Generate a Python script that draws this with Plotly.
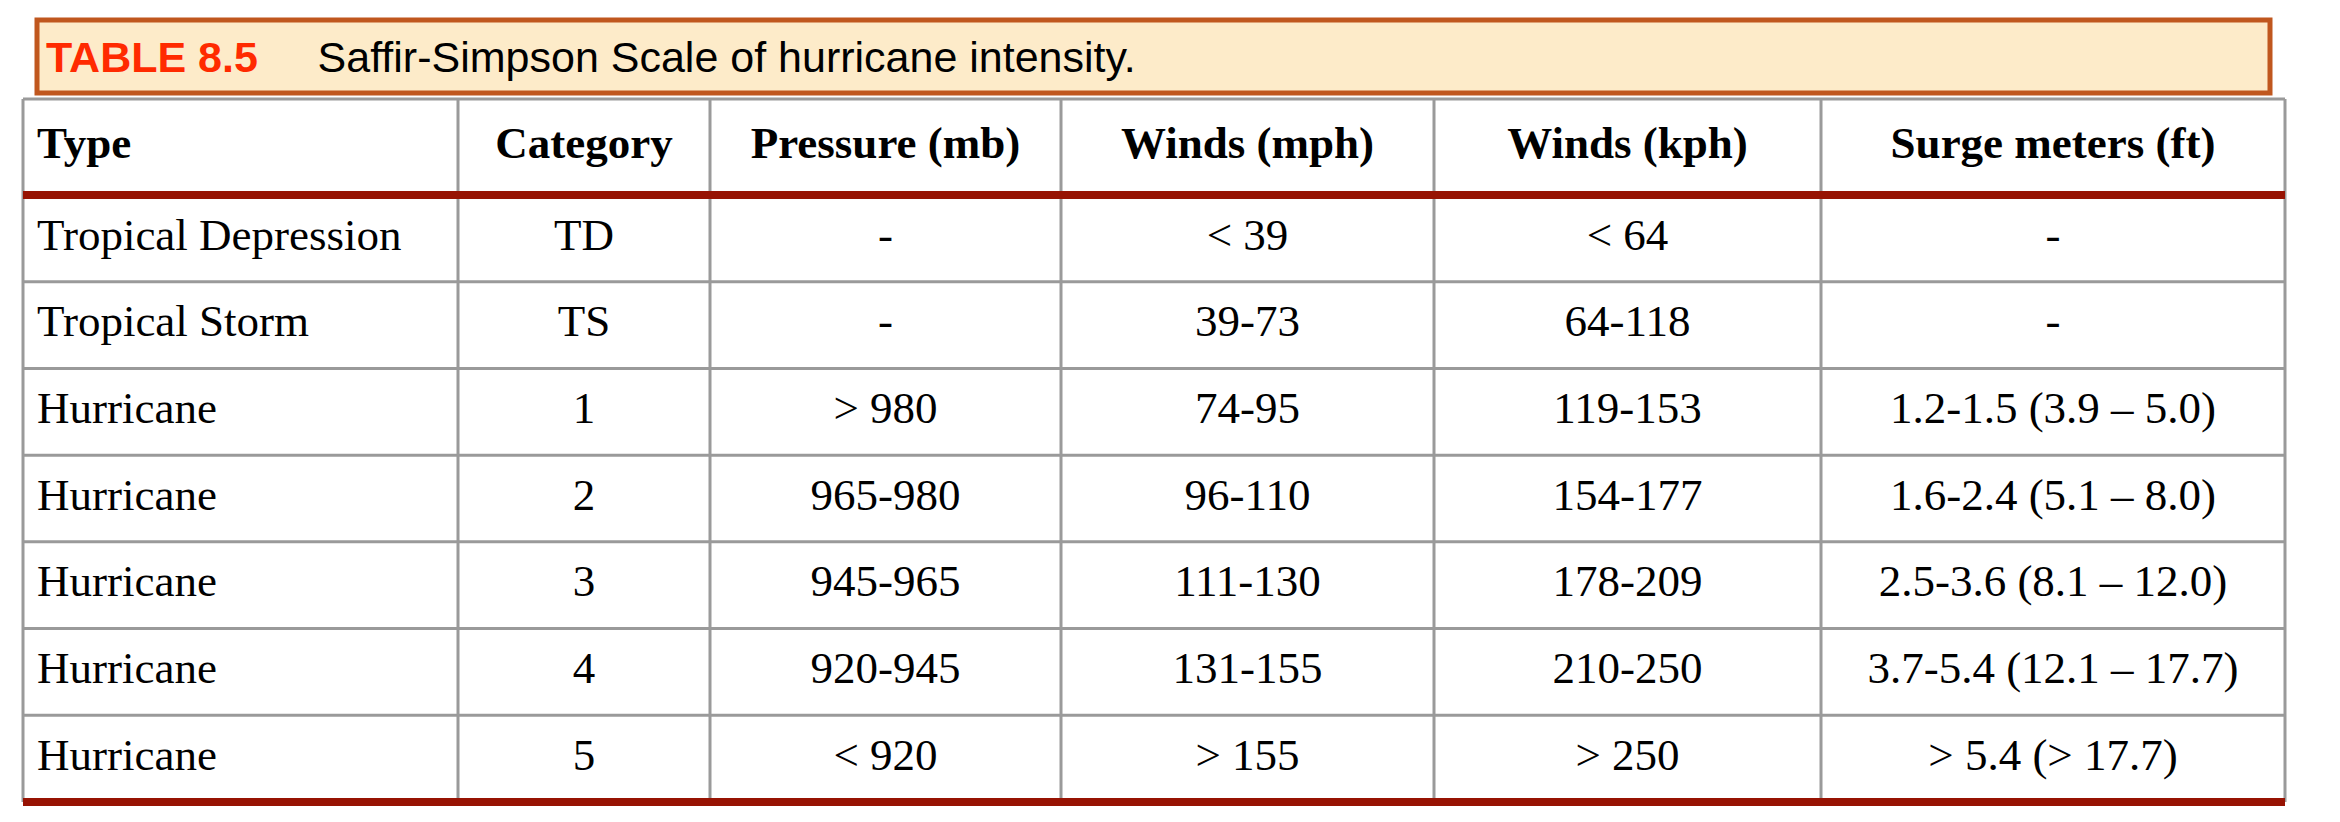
import plotly.graph_objects as go

# table content
columns = ["Type", "Category", "Pressure (mb)", "Winds (mph)", "Winds (kph)", "Surge meters (ft)"]
types = ["Tropical Depression", "Tropical Storm", "Hurricane", "Hurricane", "Hurricane", "Hurricane", "Hurricane"]
categories = ["TD", "TS", "1", "2", "3", "4", "5"]
pressure = ["-", "-", "> 980", "965-980", "945-965", "920-945", "< 920"]
winds_mph = ["< 39", "39-73", "74-95", "96-110", "111-130", "131-155", "> 155"]
winds_kph = ["< 64", "64-118", "119-153", "154-177", "178-209", "210-250", "> 250"]
surge = ["-", "-", "1.2-1.5 (3.9 – 5.0)", "1.6-2.4 (5.1 – 8.0)", "2.5-3.6 (8.1 – 12.0)",
         "3.7-5.4 (12.1 – 17.7)", "> 5.4 (> 17.7)"]

W, H = 2340, 822
col_edges = [15, 450, 702, 1053, 1426, 1813, 2277]
top, head_bot, bottom = 91, 187, 794
row_h = (bottom - head_bot) / len(types)

GRID = "#9a9a9a"
RED = "#971303"
FONT = "Liberation Serif"
fs = 45

fig = go.Figure()
body = [types, categories, pressure, winds_mph, winds_kph, surge]
for i, col in enumerate(body):
    ys = [head_bot + row_h * (r + 0.5) for r in range(len(col))]
    if i == 0:
        xs = [col_edges[0] + 14] * len(col)
        pos = "middle right"
    else:
        xs = [(col_edges[i] + col_edges[i + 1]) / 2] * len(col)
        pos = "middle center"
    fig.add_trace(go.Scatter(x=xs, y=ys, mode="text", text=col, textposition=pos,
                             textfont=dict(family=FONT, size=fs, color="black"),
                             hoverinfo="skip", showlegend=False))

hx = [col_edges[0] + 14] + [(col_edges[i] + col_edges[i + 1]) / 2 for i in range(1, len(columns))]
fig.add_trace(go.Scatter(x=hx, y=[(top + head_bot) / 2] * len(columns), mode="text",
                         text=["<b>%s</b>" % c for c in columns],
                         textposition=["middle right"] + ["middle center"] * (len(columns) - 1),
                         textfont=dict(family=FONT, size=fs, color="black"),
                         hoverinfo="skip", showlegend=False))

shapes = []
# title box
shapes.append(dict(type="rect", x0=29, x1=2262, y0=12, y1=85, fillcolor="#fdebc9",
                   line=dict(color="#c0571e", width=5), layer="below"))
# vertical grid
for x in col_edges:
    shapes.append(dict(type="line", x0=x, x1=x, y0=top, y1=bottom, line=dict(color=GRID, width=3)))
# horizontal grid
shapes.append(dict(type="line", x0=col_edges[0], x1=col_edges[-1], y0=top, y1=top, line=dict(color=GRID, width=3)))
for r in range(1, len(types)):
    y = head_bot + row_h * r
    shapes.append(dict(type="line", x0=col_edges[0], x1=col_edges[-1], y0=y, y1=y, line=dict(color=GRID, width=3)))
for y in [head_bot, bottom]:
    shapes.append(dict(type="line", x0=col_edges[0], x1=col_edges[-1], y0=y, y1=y, line=dict(color=RED, width=8)))

fig.update_layout(
    width=W, height=H, margin=dict(l=0, r=0, t=0, b=0),
    paper_bgcolor="white", plot_bgcolor="white", shapes=shapes,
    xaxis=dict(range=[0, W], visible=False, fixedrange=True),
    yaxis=dict(range=[H, 0], visible=False, fixedrange=True),
    annotations=[dict(x=36, y=49, xref="x", yref="y", xanchor="left", yanchor="middle",
                      showarrow=False,
                      text="<b><span style='color:#ff2a00'>TABLE 8.5</span></b>"
                           "     Saffir-Simpson Scale of hurricane intensity.",
                      font=dict(family="Liberation Sans", size=43, color="black"))],
)

fig.write_html("out.html")
